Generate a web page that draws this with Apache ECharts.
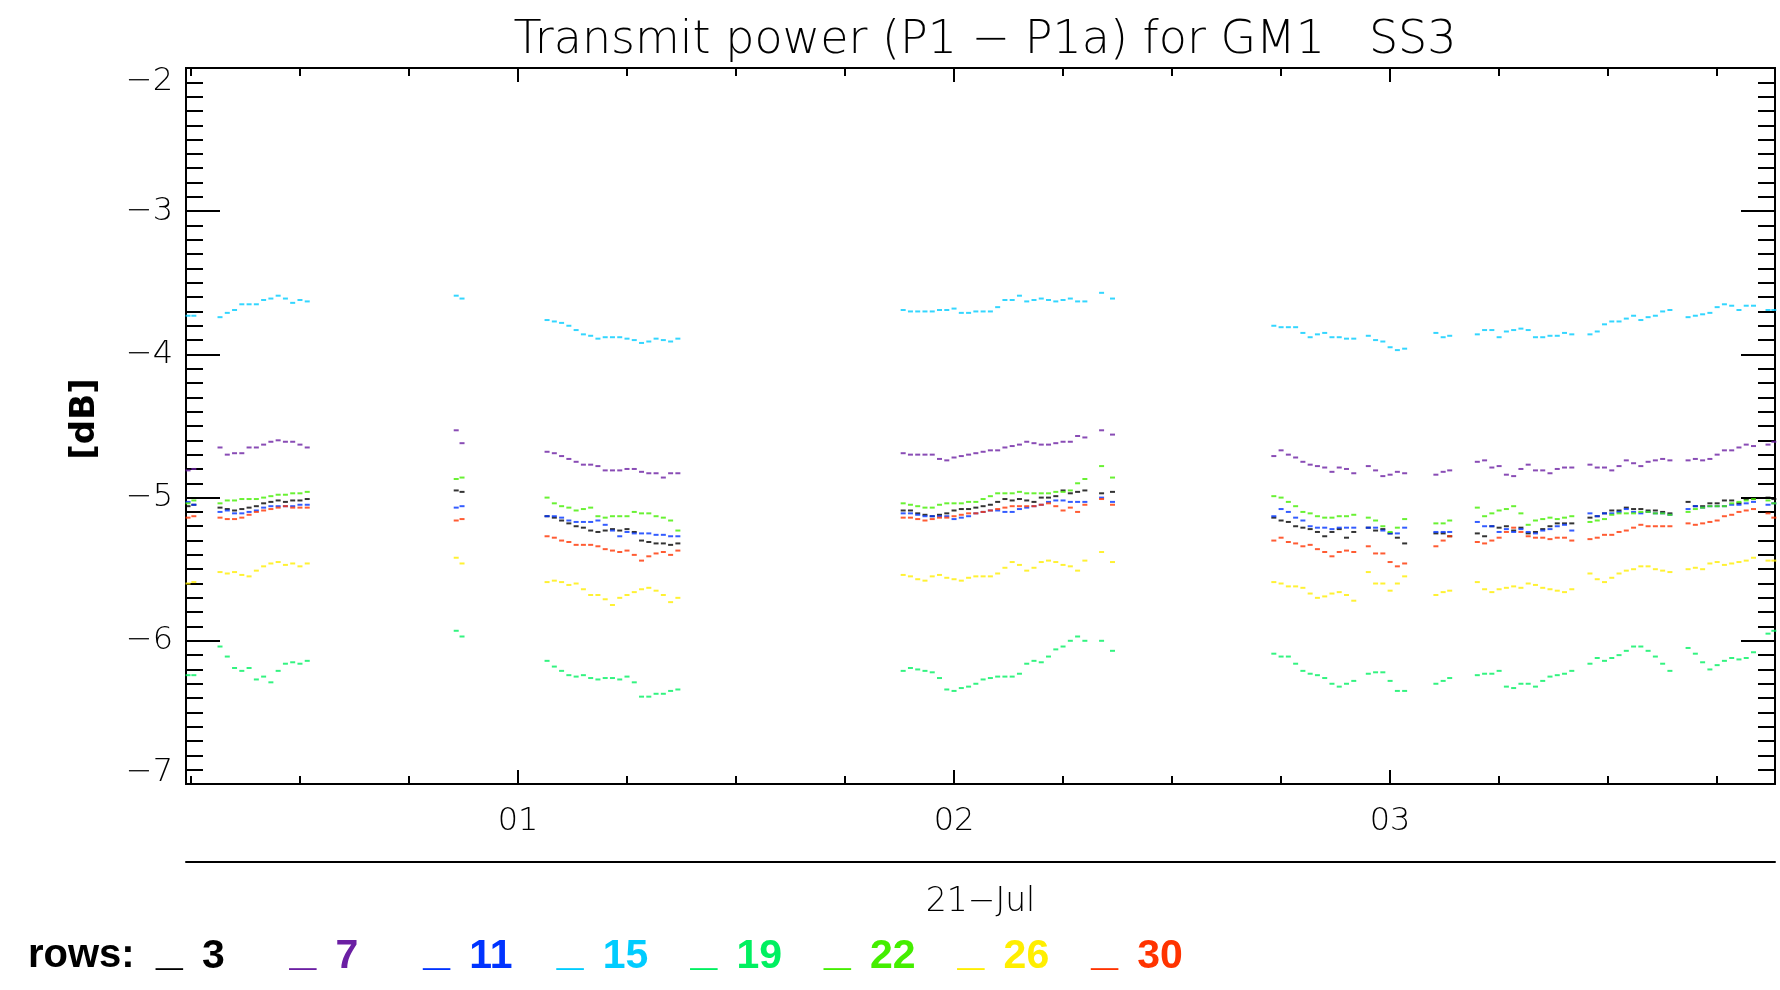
<!DOCTYPE html>
<html>
<head>
<meta charset="utf-8">
<title>Transmit power (P1 - P1a) for GM1 SS3</title>
<script src="https://cdn.jsdelivr.net/npm/echarts@6/dist/echarts.min.js"></script>
<style>
  html, body { margin: 0; padding: 0; background: #ffffff; }
  #chart { width: 1780px; height: 990px; }
</style>
</head>
<body>
<div id="chart"></div>
<script>
// Sample times, minutes after 00:00 on 21-Jul (shared by every row)
const minutes = [
  14.6, 15.4,
  19, 20, 21, 22, 23, 24, 25, 26, 27, 28, 29, 30, 31,
  51.5, 52.3,
  64, 65, 66, 67, 68, 69, 70, 71, 72, 73, 74, 75, 76, 77, 78, 79, 80, 81, 82,
  113, 114, 115, 116, 117, 118, 119, 120, 121, 122, 123, 124, 125, 126, 127, 128, 129, 130, 131, 132, 133, 134, 135, 136, 137, 138,
  140.3, 141.8,
  164, 165, 166, 167, 168, 169, 170, 171, 172, 173, 174, 175,
  177, 178, 179, 180, 181, 182,
  186.3, 187.3, 188.2,
  192, 193, 194, 195, 196, 197, 198, 199, 200, 201, 202, 203, 204, 205,
  207.5, 208.5, 209.5, 210.5, 211.5, 212.5, 213.5, 214.5, 215.5, 216.5, 217.5, 218.5,
  221, 222, 223, 224, 225, 226, 227, 228, 229, 230,
  232, 232.8
];

// P1 - P1a in dB, one value per sample time
const row3 = [
  -5.06, -5.05,
  -5.07, -5.08, -5.09, -5.08, -5.07, -5.06, -5.04, -5.03, -5.02, -5.03, -5.02, -5.02, -5.01,
  -4.95, -4.96,
  -5.13, -5.14, -5.16, -5.18, -5.20, -5.21, -5.23, -5.24, -5.23, -5.22, -5.23, -5.22, -5.24, -5.30, -5.31, -5.32, -5.32, -5.33, -5.32,
  -5.09, -5.09, -5.11, -5.12, -5.13, -5.12, -5.11, -5.09, -5.08, -5.08, -5.07, -5.06, -5.05, -5.03, -5.01, -5.02, -5.01, -5.02, -5.03, -5.00, -5.00, -4.99, -4.95, -4.97, -4.96, -4.95,
  -4.97, -4.96,
  -5.14, -5.16, -5.17, -5.20, -5.21, -5.22, -5.24, -5.27, -5.24, -5.22, -5.28, -5.24,
  -5.21, -5.23, -5.22, -5.25, -5.28, -5.32,
  -5.25, -5.25, -5.27,
  -5.25, -5.27, -5.20, -5.21, -5.20, -5.23, -5.21, -5.25, -5.24, -5.22, -5.20, -5.18, -5.18, -5.18,
  -5.14, -5.13, -5.11, -5.09, -5.09, -5.07, -5.08, -5.08, -5.09, -5.09, -5.10, -5.11,
  -5.03, -5.06, -5.06, -5.04, -5.04, -5.02, -5.02, -5.04, -5.01, -5.01,
  -5.00, -5.01
];
const row7 = [
  -4.81, -4.80,
  -4.65, -4.70, -4.69, -4.69, -4.65, -4.65, -4.63, -4.61, -4.60, -4.61, -4.61, -4.63, -4.65,
  -4.53, -4.62,
  -4.68, -4.69, -4.71, -4.73, -4.75, -4.77, -4.77, -4.78, -4.81, -4.81, -4.81, -4.80, -4.80, -4.82, -4.83, -4.83, -4.86, -4.83, -4.83,
  -4.69, -4.70, -4.70, -4.70, -4.70, -4.73, -4.74, -4.72, -4.71, -4.70, -4.69, -4.68, -4.67, -4.67, -4.65, -4.64, -4.63, -4.61, -4.62, -4.63, -4.63, -4.62, -4.61, -4.61, -4.57, -4.58,
  -4.53, -4.56,
  -4.71, -4.67, -4.70, -4.72, -4.75, -4.77, -4.78, -4.79, -4.82, -4.79, -4.80, -4.83,
  -4.78, -4.81, -4.85, -4.84, -4.82, -4.83,
  -4.84, -4.82, -4.81,
  -4.75, -4.74, -4.79, -4.78, -4.84, -4.85, -4.80, -4.77, -4.81, -4.81, -4.83, -4.80, -4.79, -4.79,
  -4.77, -4.79, -4.79, -4.81, -4.78, -4.74, -4.76, -4.78, -4.75, -4.74, -4.73, -4.74,
  -4.74, -4.73, -4.74, -4.73, -4.70, -4.67, -4.67, -4.65, -4.63, -4.64,
  -4.63, -4.61
];
const row11 = [
  -5.03, -5.05,
  -5.10, -5.09, -5.11, -5.11, -5.10, -5.09, -5.07, -5.06, -5.06, -5.06, -5.06, -5.05, -5.05,
  -5.07, -5.06,
  -5.13, -5.13, -5.14, -5.16, -5.17, -5.17, -5.17, -5.16, -5.19, -5.23, -5.27, -5.24, -5.25, -5.25, -5.25, -5.26, -5.26, -5.27, -5.27,
  -5.11, -5.11, -5.12, -5.13, -5.13, -5.13, -5.13, -5.15, -5.14, -5.13, -5.11, -5.10, -5.09, -5.09, -5.10, -5.10, -5.08, -5.07, -5.06, -5.05, -5.03, -5.02, -5.02, -5.03, -5.03, -5.03,
  -5.00, -5.03,
  -5.13, -5.08, -5.10, -5.14, -5.16, -5.20, -5.21, -5.21, -5.22, -5.21, -5.21, -5.21,
  -5.21, -5.21, -5.23, -5.25, -5.25, -5.21,
  -5.24, -5.24, -5.24,
  -5.17, -5.20, -5.20, -5.24, -5.22, -5.24, -5.22, -5.24, -5.25, -5.23, -5.22, -5.20, -5.19, -5.23,
  -5.11, -5.13, -5.11, -5.11, -5.10, -5.08, -5.10, -5.11, -5.10, -5.11, -5.11, -5.12,
  -5.08, -5.06, -5.07, -5.06, -5.06, -5.06, -5.05, -5.05, -5.04, -5.03,
  -5.05, -5.04
];
const row15 = [
  -3.73, -3.73,
  -3.74, -3.71, -3.69, -3.65, -3.65, -3.65, -3.62, -3.61, -3.59, -3.61, -3.64, -3.62, -3.63,
  -3.59, -3.61,
  -3.76, -3.77, -3.78, -3.80, -3.83, -3.86, -3.87, -3.89, -3.88, -3.88, -3.88, -3.89, -3.90, -3.92, -3.91, -3.89, -3.90, -3.91, -3.89,
  -3.69, -3.70, -3.70, -3.70, -3.70, -3.69, -3.69, -3.68, -3.71, -3.71, -3.70, -3.70, -3.70, -3.67, -3.62, -3.62, -3.59, -3.63, -3.62, -3.61, -3.62, -3.63, -3.62, -3.61, -3.63, -3.63,
  -3.57, -3.61,
  -3.80, -3.81, -3.81, -3.81, -3.85, -3.88, -3.86, -3.85, -3.88, -3.88, -3.89, -3.89,
  -3.87, -3.90, -3.91, -3.95, -3.97, -3.96,
  -3.85, -3.88, -3.87,
  -3.86, -3.83, -3.83, -3.88, -3.84, -3.83, -3.82, -3.83, -3.88, -3.88, -3.87, -3.87, -3.85, -3.86,
  -3.86, -3.84, -3.79, -3.77, -3.77, -3.75, -3.73, -3.76, -3.74, -3.73, -3.70, -3.69,
  -3.74, -3.73, -3.72, -3.71, -3.67, -3.65, -3.66, -3.69, -3.66, -3.66,
  -3.69, -3.69
];
const row19 = [
  -6.24, -6.24,
  -6.04, -6.11, -6.19, -6.21, -6.19, -6.27, -6.25, -6.29, -6.21, -6.16, -6.15, -6.16, -6.14,
  -5.93, -5.97,
  -6.14, -6.18, -6.21, -6.24, -6.25, -6.24, -6.26, -6.27, -6.26, -6.26, -6.27, -6.25, -6.29, -6.39, -6.39, -6.37, -6.37, -6.35, -6.34,
  -6.21, -6.19, -6.20, -6.21, -6.22, -6.26, -6.34, -6.35, -6.33, -6.32, -6.30, -6.27, -6.26, -6.25, -6.25, -6.25, -6.23, -6.16, -6.14, -6.15, -6.11, -6.06, -6.04, -6.00, -5.97, -6.00,
  -6.00, -6.07,
  -6.09, -6.11, -6.11, -6.16, -6.21, -6.23, -6.24, -6.26, -6.30, -6.32, -6.30, -6.28,
  -6.23, -6.22, -6.22, -6.28, -6.35, -6.35,
  -6.30, -6.28, -6.26,
  -6.24, -6.23, -6.23, -6.21, -6.32, -6.33, -6.30, -6.30, -6.32, -6.28, -6.25, -6.24, -6.23, -6.21,
  -6.16, -6.12, -6.14, -6.12, -6.10, -6.07, -6.04, -6.04, -6.07, -6.11, -6.16, -6.21,
  -6.05, -6.09, -6.15, -6.20, -6.17, -6.14, -6.12, -6.13, -6.12, -6.08,
  -5.95, -5.93
];
const row22 = [
  -5.04, -5.02,
  -5.04, -5.02, -5.02, -5.01, -5.01, -5.01, -5.00, -4.99, -4.98, -4.98, -4.97, -4.97, -4.96,
  -4.87, -4.86,
  -5.00, -5.04, -5.06, -5.07, -5.09, -5.08, -5.07, -5.13, -5.14, -5.13, -5.13, -5.13, -5.10, -5.11, -5.11, -5.13, -5.14, -5.16, -5.23,
  -5.04, -5.05, -5.06, -5.07, -5.07, -5.05, -5.04, -5.04, -5.04, -5.03, -5.03, -5.01, -4.99, -4.97, -4.97, -4.97, -4.96, -4.97, -4.97, -4.97, -4.97, -4.96, -4.96, -4.95, -4.90, -4.87,
  -4.78, -4.86,
  -4.99, -5.00, -5.03, -5.06, -5.10, -5.11, -5.13, -5.14, -5.14, -5.13, -5.13, -5.12,
  -5.14, -5.16, -5.20, -5.24, -5.21, -5.15,
  -5.18, -5.18, -5.16,
  -5.07, -5.13, -5.11, -5.09, -5.08, -5.06, -5.11, -5.19, -5.16, -5.15, -5.14, -5.15, -5.14, -5.13,
  -5.17, -5.16, -5.15, -5.12, -5.11, -5.11, -5.11, -5.10, -5.10, -5.11, -5.11, -5.12,
  -5.10, -5.08, -5.07, -5.06, -5.06, -5.06, -5.04, -5.03, -5.02, -5.01,
  -5.02, -5.04
];
const row26 = [
  -5.60, -5.59,
  -5.52, -5.53, -5.52, -5.54, -5.55, -5.51, -5.48, -5.46, -5.45, -5.47, -5.46, -5.48, -5.46,
  -5.42, -5.46,
  -5.59, -5.58, -5.59, -5.61, -5.60, -5.64, -5.68, -5.68, -5.71, -5.75, -5.70, -5.68, -5.66, -5.64, -5.63, -5.65, -5.68, -5.73, -5.70,
  -5.54, -5.55, -5.57, -5.58, -5.55, -5.54, -5.56, -5.57, -5.58, -5.56, -5.55, -5.55, -5.55, -5.53, -5.49, -5.45, -5.47, -5.51, -5.49, -5.45, -5.44, -5.45, -5.47, -5.48, -5.51, -5.44,
  -5.38, -5.45,
  -5.59, -5.60, -5.62, -5.62, -5.63, -5.67, -5.70, -5.69, -5.67, -5.66, -5.68, -5.72,
  -5.52, -5.60, -5.60, -5.65, -5.60, -5.55,
  -5.68, -5.66, -5.65,
  -5.59, -5.64, -5.66, -5.64, -5.63, -5.62, -5.63, -5.60, -5.61, -5.63, -5.64, -5.65, -5.66, -5.64,
  -5.53, -5.57, -5.59, -5.56, -5.53, -5.51, -5.50, -5.48, -5.48, -5.50, -5.51, -5.52,
  -5.50, -5.49, -5.50, -5.46, -5.45, -5.47, -5.46, -5.45, -5.44, -5.42,
  -5.44, -5.44
];
const row30 = [
  -5.14, -5.13,
  -5.14, -5.15, -5.15, -5.14, -5.12, -5.10, -5.09, -5.08, -5.07, -5.06, -5.07, -5.07, -5.07,
  -5.16, -5.15,
  -5.27, -5.28, -5.30, -5.31, -5.33, -5.33, -5.33, -5.34, -5.36, -5.37, -5.38, -5.37, -5.40, -5.44, -5.41, -5.39, -5.38, -5.40, -5.37,
  -5.14, -5.14, -5.15, -5.16, -5.15, -5.14, -5.14, -5.13, -5.12, -5.11, -5.11, -5.10, -5.09, -5.08, -5.07, -5.06, -5.06, -5.06, -5.06, -5.05, -5.04, -5.06, -5.09, -5.07, -5.10, -5.05,
  -5.01, -5.05,
  -5.30, -5.28, -5.31, -5.32, -5.34, -5.33, -5.36, -5.38, -5.41, -5.38, -5.37, -5.38,
  -5.34, -5.39, -5.39, -5.45, -5.48, -5.46,
  -5.34, -5.30, -5.27,
  -5.31, -5.32, -5.30, -5.28, -5.24, -5.21, -5.24, -5.27, -5.28, -5.28, -5.29, -5.28, -5.28, -5.30,
  -5.29, -5.28, -5.26, -5.26, -5.24, -5.23, -5.21, -5.19, -5.20, -5.20, -5.20, -5.20,
  -5.18, -5.19, -5.18, -5.17, -5.16, -5.13, -5.12, -5.10, -5.09, -5.08,
  -5.11, -5.14
];

const rowNames = ['3', '7', '11', '15', '19', '22', '26', '30'];
const rowValues = [row3, row7, row11, row15, row19, row22, row26, row30];
const rowColors = ['#000000', '#6b1fa3', '#0033ff', '#00ccff', '#00f060', '#44ee00', '#ffee00', '#ff3300'];

// Time axis: minutes after midnight, labelled in hours
const timeRange = [14.32, 232.96];
const hourTicks = [60, 120, 180];
const hourLabels = ['01', '02', '03'];
const quarterTicks = [15, 30, 45, 60, 75, 90, 105, 120, 135, 150, 165, 180, 195, 210, 225];
const dateLabel = '21\u2212Jul';

const MINUS = '\u2212';
const AXIS_FONT = "'DejaVu Sans', sans-serif";
const LEGEND_FONT = "'Liberation Sans', 'DejaVu Sans', sans-serif";
const lineBlack = { color: '#000000', width: 2 };

function timeAxis(opts) {
  return Object.assign({
    type: 'value',
    min: timeRange[0],
    max: timeRange[1],
    position: 'bottom',
    axisLine: { show: true, onZero: false, lineStyle: lineBlack },
    axisTick: { show: false },
    axisLabel: { show: false },
    splitLine: { show: false }
  }, opts);
}

function dbAxis(opts) {
  return Object.assign({
    type: 'value',
    min: -7,
    max: -2,
    interval: 1,
    axisLine: { show: true, onZero: false, lineStyle: lineBlack },
    axisTick: { show: true, inside: true, length: 34, lineStyle: lineBlack },
    minorTick: { show: true, splitNumber: 10, length: 17, lineStyle: lineBlack },
    splitLine: { show: false },
    minorSplitLine: { show: false },
    axisLabel: { show: false }
  }, opts);
}

const chart = echarts.init(document.getElementById('chart'), null, { renderer: 'canvas' });

chart.setOption({
  backgroundColor: '#ffffff',
  animation: false,
  title: {
    text: 'Transmit power (P1 ' + MINUS + ' P1a) for GM1   SS3',
    left: 980,
    top: 13,
    textAlign: 'center',
    textStyle: { fontFamily: AXIS_FONT, fontWeight: 200, fontSize: 46, lineHeight: 46, color: '#000000' }
  },
  grid: { left: 186, right: 5, top: 68, bottom: 206, containLabel: false, outerBoundsMode: 'none' },
  xAxis: [
    // bottom: hour ticks and labels
    timeAxis({
      axisTick: { show: true, inside: true, length: 14, lineStyle: lineBlack, customValues: hourTicks },
      axisLabel: {
        show: true, customValues: hourTicks, margin: 22,
        formatter: v => hourLabels[hourTicks.indexOf(v)],
        fontFamily: AXIS_FONT, fontWeight: 200, fontSize: 32, lineHeight: 32, color: '#000000'
      }
    }),
    // bottom: quarter-hour ticks
    timeAxis({ axisTick: { show: true, inside: true, length: 8, lineStyle: lineBlack, customValues: quarterTicks } }),
    // top border mirrors the ticks
    timeAxis({ position: 'top', axisTick: { show: true, inside: true, length: 14, lineStyle: lineBlack, customValues: hourTicks } }),
    timeAxis({ position: 'top', axisTick: { show: true, inside: true, length: 8, lineStyle: lineBlack, customValues: quarterTicks } }),
    // date line under the hour labels
    timeAxis({
      offset: 78,
      name: dateLabel,
      nameLocation: 'middle',
      nameGap: 24,
      nameTextStyle: { fontFamily: AXIS_FONT, fontWeight: 200, fontSize: 33, lineHeight: 32, color: '#000000' }
    })
  ],
  yAxis: [
    dbAxis({
      position: 'left',
      name: '[dB]',
      nameLocation: 'middle',
      nameGap: 84,
      nameTextStyle: {
        fontFamily: AXIS_FONT, fontWeight: 'bold', fontSize: 34, lineHeight: 34, color: '#000000',
        padding: [0, 0, 0, 14]
      },
      axisLabel: {
        show: true,
        margin: 13,
        fontFamily: AXIS_FONT, fontWeight: 200, fontSize: 32, color: '#000000',
        formatter: v => {
          const s = (v < 0 ? MINUS : '') + Math.abs(v);
          if (v === -2) return '{top|' + s + '}';
          if (v === -7) return '{bot|' + s + '}';
          return s;
        },
        rich: {
          top: { fontFamily: AXIS_FONT, fontWeight: 200, fontSize: 32, color: '#000000', padding: [28, 0, 0, 0] },
          bot: { fontFamily: AXIS_FONT, fontWeight: 200, fontSize: 32, color: '#000000', padding: [0, 0, 22, 0] }
        }
      }
    }),
    dbAxis({ position: 'right' })
  ],
  legend: {
    left: 146,
    top: 922,
    orient: 'horizontal',
    icon: 'none',
    itemWidth: 0,
    itemHeight: 10,
    itemGap: 0,
    selectedMode: false,
    data: rowNames.map((n, i) => ({ name: n, textStyle: { color: rowColors[i] } })),
    formatter: n => '{u|_}{n|' + n + '}',
    textStyle: {
      fontFamily: LEGEND_FONT, fontSize: 41, fontWeight: 'bold',
      rich: {
        u: {
          fontFamily: LEGEND_FONT, fontSize: 48, fontWeight: 'bold', lineHeight: 44,
          width: 46, verticalAlign: 'middle', padding: [0, 0, 11, 0]
        },
        n: {
          fontFamily: LEGEND_FONT, fontSize: 41, fontWeight: 'bold', lineHeight: 44,
          width: 82.6, verticalAlign: 'middle'
        }
      }
    }
  },
  graphic: [
    {
      type: 'text',
      left: 28,
      top: 934,
      style: {
        text: 'rows:',
        fontFamily: LEGEND_FONT, fontSize: 40, fontWeight: 'bold', lineHeight: 44,
        fill: '#000000'
      }
    }
  ],
  series: rowNames.map((n, i) => ({
    name: n,
    type: 'scatter',
    xAxisIndex: 0,
    yAxisIndex: 0,
    symbol: 'rect',
    symbolSize: [5, 2],
    silent: true,
    itemStyle: { color: rowColors[i] },
    data: minutes.map((m, k) => [m, rowValues[i][k]])
  }))
});
</script>
</body>
</html>
